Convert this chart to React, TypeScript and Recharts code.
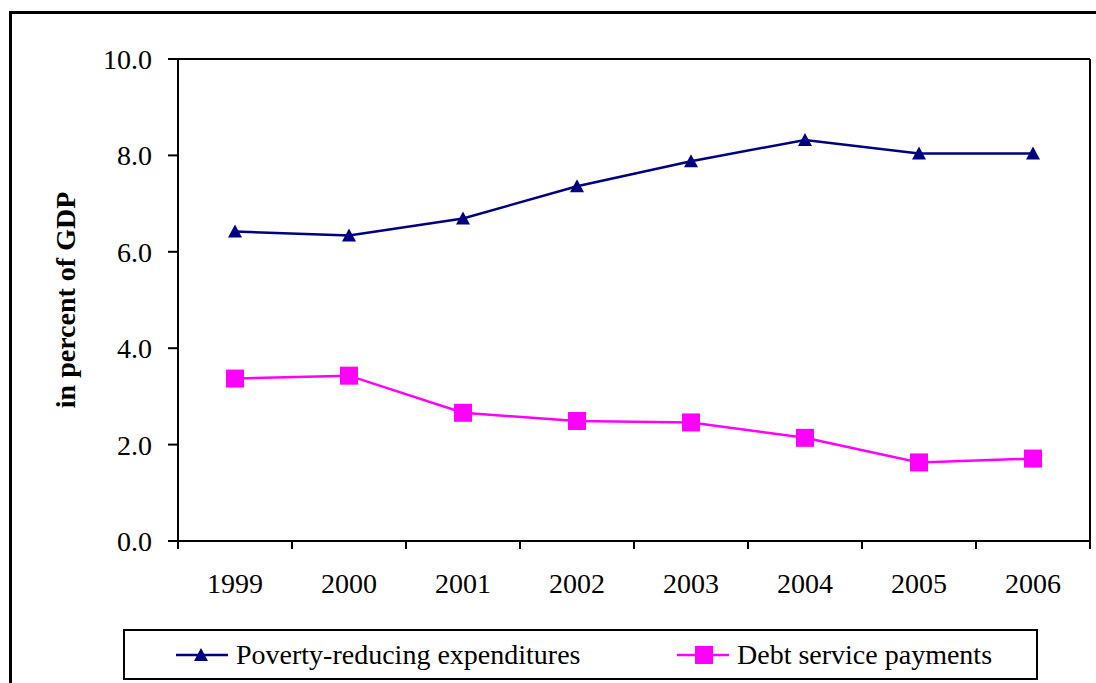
import { ComposedChart, Line, XAxis, YAxis, ReferenceLine, Legend } from 'recharts';

const years = ['1999', '2000', '2001', '2002', '2003', '2004', '2005', '2006'];
const povertyExpenditures = [6.42, 6.34, 6.69, 7.36, 7.88, 8.32, 8.04, 8.04];
const debtService = [3.37, 3.43, 2.66, 2.49, 2.46, 2.14, 1.63, 1.71];
const yTicks = [0, 2, 4, 6, 8, 10];

const seriesNames = {
  poverty: 'Poverty-reducing expenditures',
  debt: 'Debt service payments',
};
const legendOrder = ['poverty', 'debt'];

const NAVY = '#000080';
const MAGENTA = '#FF00FF';
const FONT = "'Liberation Serif', Tinos, 'Times New Roman', Times, 'DejaVu Serif', serif";

// x runs 0..8, each year sits in the middle of its slot
const data = years.map((year, i) => ({
  year,
  pos: i + 0.5,
  poverty: povertyExpenditures[i],
  debt: debtService[i],
}));

const xTicks = years.flatMap((_, i) => [i, i + 0.5]).concat(years.length);

function XTick({ x, y, payload }: any) {
  const v = payload.value as number;
  if (Number.isInteger(v)) {
    return <line x1={x} x2={x} y1={y} y2={y + 8} stroke="#000" strokeWidth={2} />;
  }
  return (
    <text x={x} y={y + 52} textAnchor="middle" style={{ fontFamily: FONT, fontSize: 28 }} fill="#000">
      {years[Math.floor(v)]}
    </text>
  );
}

function Triangle({ cx, cy, fill }: any) {
  if (cx == null || cy == null) return null;
  return <path d={`M${cx},${cy - 7} L${cx + 7},${cy + 6} L${cx - 7},${cy + 6} Z`} fill={fill} />;
}

function Square({ cx, cy, fill }: any) {
  if (cx == null || cy == null) return null;
  return <rect x={cx - 9} y={cy - 9} width={18} height={18} fill={fill} />;
}

function LegendBox({ payload }: any) {
  const entries = legendOrder
    .map((key) => (payload || []).find((p: any) => p.dataKey === key))
    .filter(Boolean);
  return (
    <div
      style={{
        boxSizing: 'border-box',
        height: 51,
        border: '2.5px solid #000',
        display: 'flex',
        alignItems: 'center',
        paddingLeft: 51,
        background: '#fff',
      }}
    >
      {entries.map((entry: any, i: number) => {
        const isDebt = entry.dataKey === 'debt';
        return (
          <div
            key={entry.dataKey}
            style={{ display: 'flex', alignItems: 'center', flex: '0 0 auto', width: i === 0 ? 501 : 'auto' }}
          >
            <svg width={56} height={22} style={{ marginRight: 4 }}>
              <line x1={0} x2={52} y1={11} y2={11} stroke={entry.color} strokeWidth={2.5} />
              {isDebt ? <Square cx={27} cy={11} fill={entry.color} /> : <Triangle cx={25} cy={11} fill={entry.color} />}
            </svg>
            <span style={{ fontFamily: FONT, fontSize: 28, color: '#000', lineHeight: 1 }}>{entry.value}</span>
          </div>
        );
      })}
    </div>
  );
}

export default function App() {
  return (
    <div
      style={{
        position: 'absolute',
        left: 0,
        top: 0,
        width: 1096,
        height: 683,
        overflow: 'hidden',
        background: '#fff',
        fontFamily: FONT,
      }}
    >
      <div
        style={{
          position: 'absolute',
          left: 9,
          top: 11,
          width: 1300,
          height: 900,
          border: '3px solid #000',
        }}
      />
      <div style={{ position: 'absolute', left: 0, top: 0 }}>
        <ComposedChart width={1096} height={683} data={data} margin={{ top: 59, right: 6, bottom: 31, left: 0 }}>
          <XAxis
            dataKey="pos"
            type="number"
            domain={[0, years.length]}
            ticks={xTicks}
            interval={0}
            tick={<XTick />}
            tickLine={false}
            tickSize={0}
            tickMargin={0}
            axisLine={{ stroke: '#000', strokeWidth: 2 }}
            height={60}
          />
          <YAxis
            domain={[0, 10]}
            ticks={yTicks}
            interval={0}
            width={178}
            tickFormatter={(v: number) => v.toFixed(1)}
            tick={{ fill: '#000', fontSize: 28, fontFamily: FONT, style: { fontFamily: FONT } }}
            tickSize={10}
            tickMargin={16}
            tickLine={{ stroke: '#000', strokeWidth: 2 }}
            axisLine={{ stroke: '#000', strokeWidth: 2 }}
            label={{
              value: 'in percent of GDP',
              angle: -90,
              position: 'center',
              dx: -24,
              style: { fontFamily: FONT, fontSize: 28, fontWeight: 'bold', fill: '#000' },
            }}
          />
          <ReferenceLine y={10} stroke="#000" strokeWidth={2} />
          <ReferenceLine x={years.length} stroke="#000" strokeWidth={2} />
          <Line
            dataKey="poverty"
            name={seriesNames.poverty}
            stroke={NAVY}
            fill={NAVY}
            strokeWidth={2.5}
            dot={<Triangle fill={NAVY} />}
            activeDot={false}
            isAnimationActive={false}
          />
          <Line
            dataKey="debt"
            name={seriesNames.debt}
            stroke={MAGENTA}
            fill={MAGENTA}
            strokeWidth={2.5}
            dot={<Square fill={MAGENTA} />}
            activeDot={false}
            isAnimationActive={false}
          />
          <Legend
            verticalAlign="bottom"
            content={<LegendBox />}
            wrapperStyle={{ left: 123, bottom: 3, width: 915, height: 51 }}
          />
        </ComposedChart>
      </div>
    </div>
  );
}
